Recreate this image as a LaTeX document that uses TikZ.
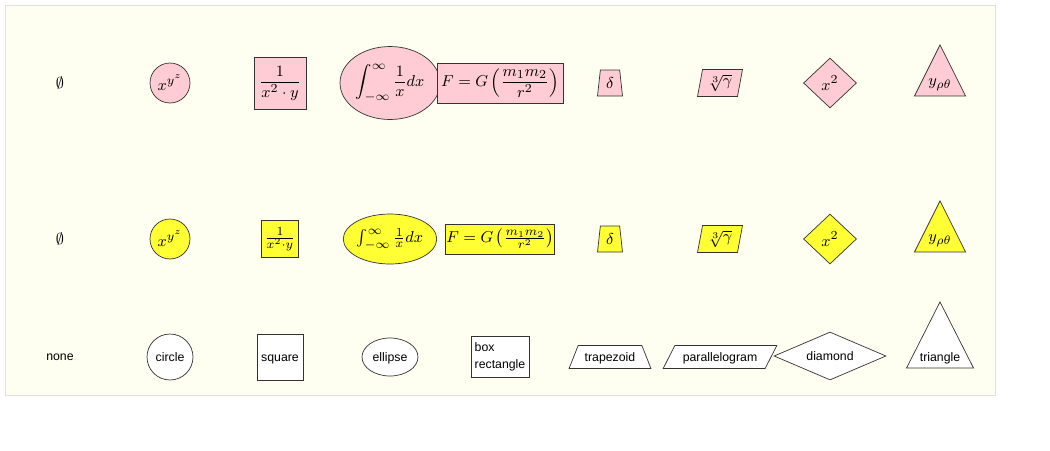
\documentclass[tikz,border=0pt]{standalone}
\usepackage{amsmath}
\usepackage{fontspec}
\setsansfont{Liberation Sans}
\usepackage{tikz}
\usetikzlibrary{shapes.geometric,positioning}
\definecolor{bgcream}{RGB}{254,255,240}
\definecolor{shpink}{RGB}{255,204,213}
\definecolor{shyellow}{RGB}{255,255,51}

\begin{document}
\begin{tikzpicture}[x=0.02cm, y=-0.02cm,
  shp/.style={draw=black!80, inner sep=0pt, font=\fontsize{9.5}{11}\selectfont},
  pinkshp/.style={shp, fill=shpink},
  yellowshp/.style={shp, fill=shyellow},
  plainshp/.style={shp, fill=white, font=\sffamily\fontsize{7}{9.6}\selectfont, text height=1.6ex, text depth=0.35ex},
  plaintxt/.style={font=\sffamily\fontsize{7}{9.6}\selectfont},
  mathtxt/.style={font=\fontsize{9.5}{11}\selectfont},
  trap/.style={trapezium, trapezium stretches=true},
  tri/.style={isosceles triangle, isosceles triangle stretches=true, shape border rotate=90}
]
\useasboundingbox (0,0) rectangle (1050,450);
\draw[draw=black!12, fill=bgcream] (5,5) rectangle (995,395);

\node[mathtxt] (p0) at (60,83) {$\emptyset$};
\node[pinkshp, circle, minimum size=0.8cm] (p1) at (170,83) {$x^{y^z}$};
\node[pinkshp, rectangle, minimum size=1.04cm] (p2) at (280,83) {$\displaystyle\frac{1}{x^2\cdot y}$};
\node[pinkshp, ellipse, minimum width=2cm, minimum height=1.46cm] (p3) at (390,83) {$\displaystyle\int_{-\infty}^{\infty}\frac{1}{x}dx$};
\node[pinkshp, rectangle, minimum width=2.52cm, minimum height=0.8cm] (p4) at (500,83) {$\displaystyle F=G\left(\frac{m_1m_2}{r^2}\right)$};
\node[pinkshp, trap, trapezium angle=84, minimum width=0.5cm, minimum height=0.52cm] (p5) at (610,83) {$\delta$};
\node[pinkshp, trap, trapezium left angle=78, trapezium right angle=102, minimum width=0.9cm, minimum height=0.54cm] (p6) at (720,83) {$\sqrt[3]{\gamma}$};
\node[pinkshp, diamond, minimum width=1.06cm, minimum height=1cm] (p7) at (830,83) {$x^2$};
\node[pinkshp, tri, minimum width=1.02cm, minimum height=1.02cm] (p8) at (940,85) {$y_{\rho\theta}$};

\node[mathtxt] (y0) at (60,239) {$\emptyset$};
\node[yellowshp, circle, minimum size=0.8cm] (y1) at (170,239) {$x^{y^z}$};
\node[yellowshp, rectangle, minimum size=0.74cm] (y2) at (280,239) {$\frac{1}{x^2\cdot y}$};
\node[yellowshp, ellipse, minimum width=1.82cm, minimum height=1cm] (y3) at (390,239) {$\int_{-\infty}^{\infty}\frac{1}{x}dx$};
\node[yellowshp, rectangle, minimum width=2.18cm, minimum height=0.6cm] (y4) at (500,239) {$F=G\left(\frac{m_1m_2}{r^2}\right)$};
\node[yellowshp, trap, trapezium angle=84, minimum width=0.5cm, minimum height=0.52cm] (y5) at (610,239) {$\delta$};
\node[yellowshp, trap, trapezium left angle=78, trapezium right angle=102, minimum width=0.9cm, minimum height=0.54cm] (y6) at (720,239) {$\sqrt[3]{\gamma}$};
\node[yellowshp, diamond, minimum width=1.06cm, minimum height=1cm] (y7) at (830,239) {$x^2$};
\node[yellowshp, tri, minimum width=1.02cm, minimum height=1.02cm] (y8) at (940,241) {$y_{\rho\theta}$};

\node[plaintxt] (w0) at (60,357) {none};
\node[plainshp, circle, minimum size=0.92cm] (w1) at (170,357) {circle};
\node[plainshp, rectangle, minimum size=0.92cm] (w2) at (280,357) {square};
\node[plainshp, ellipse, minimum width=1.12cm, minimum height=0.76cm] (w3) at (390,357) {ellipse};
\node[plainshp, rectangle, align=left, inner xsep=1.5pt, text height=, text depth=, minimum width=1.16cm, minimum height=0.82cm] (w4) at (500,357) {box\\rectangle};
\node[plainshp, trap, trapezium angle=64, minimum width=1.64cm, minimum height=0.46cm] (w5) at (610,357) {trapezoid};
\node[plainshp, trap, trapezium left angle=57, trapezium right angle=123, minimum width=2.28cm, minimum height=0.46cm] (w6) at (720,357) {parallelogram};
\node[plainshp, diamond, aspect=2.4, minimum width=2.24cm, minimum height=0.96cm] (w7) at (830,356) {diamond};
\node[plainshp, tri, minimum width=1.34cm, minimum height=1.32cm] (w8) at (940,357) {triangle};
\end{tikzpicture}
\end{document}
